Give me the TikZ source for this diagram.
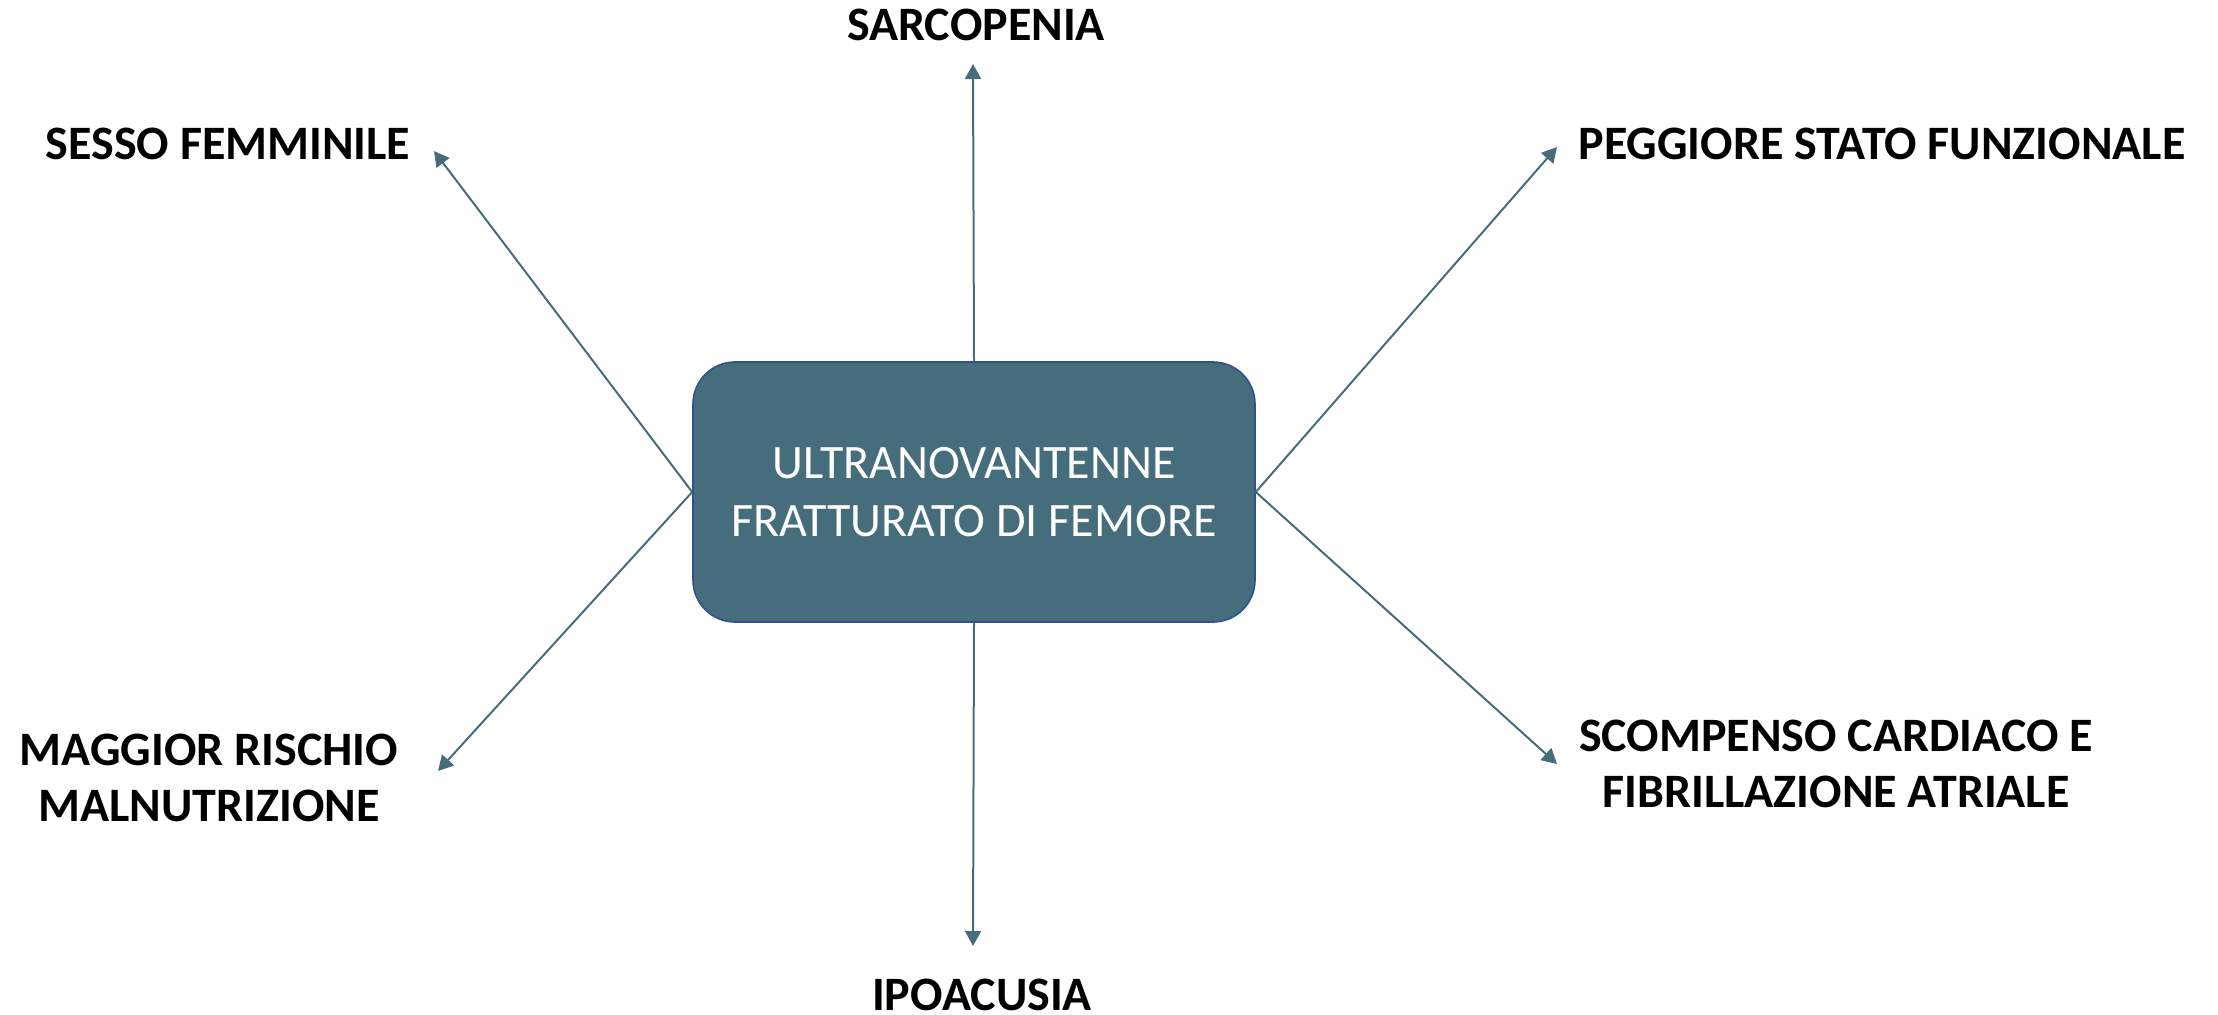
\documentclass[tikz,border=0pt]{standalone}
\usepackage{fontspec}
\setmainfont{Carlito}
\usepackage{tikz}
\usetikzlibrary{positioning}
\usetikzlibrary{shapes,arrows.meta}
\definecolor{boxfill}{HTML}{466D7B}
\definecolor{boxline}{HTML}{2F528F}
\tikzstyle{central} = [rectangle, draw=boxline, line width=0.8pt, fill=boxfill, rounded corners=21pt, minimum width=281pt, minimum height=130pt, text=white, align=center, font=\fontsize{24}{29}\selectfont]
\tikzstyle{factor} = [draw=none, fill=none, align=center, font=\fontsize{24}{28}\selectfont\bfseries]
\tikzstyle{link} = [draw=boxfill, line width=1pt, -{Triangle[length=7.5pt,width=8pt]}]

\begin{document}
\begin{tikzpicture}[x=0.5pt, y=-0.5pt]
	\useasboundingbox (0,0) rectangle (2218,1014);
	% central node
	\node [central] (C) at (974,492) {ULTRANOVANTENNE\\FRATTURATO DI FEMORE};
	% place labels
	\node [factor] (L1) at (976,25)   {SARCOPENIA};
	\node [factor] (L2) at (228,144)  {SESSO FEMMINILE};
	\node [factor] (L3) at (1882,144) {PEGGIORE STATO FUNZIONALE};
	\node [factor] (L4) at (209,778)  {MAGGIOR RISCHIO\\MALNUTRIZIONE};
	\node [factor] (L5) at (1836,764) {SCOMPENSO CARDIACO E\\FIBRILLAZIONE ATRIALE};
	\node [factor] (L6) at (982,995)  {IPOACUSIA};
	% arrow ends
	\coordinate (E1) at (973,64);
	\coordinate (E2) at (434,151);
	\coordinate (E3) at (1557,147);
	\coordinate (E4) at (438,771);
	\coordinate (E5) at (1557,764);
	\coordinate (E6) at (973,946);

	% draw edges
	\path [link] (C.north) -- (E1);
	\path [link] (C.west)  -- (E2);
	\path [link] (C.east)  -- (E3);
	\path [link] (C.west)  -- (E4);
	\path [link] (C.east)  -- (E5);
	\path [link] (C.south) -- (E6);
\end{tikzpicture}
\end{document}
